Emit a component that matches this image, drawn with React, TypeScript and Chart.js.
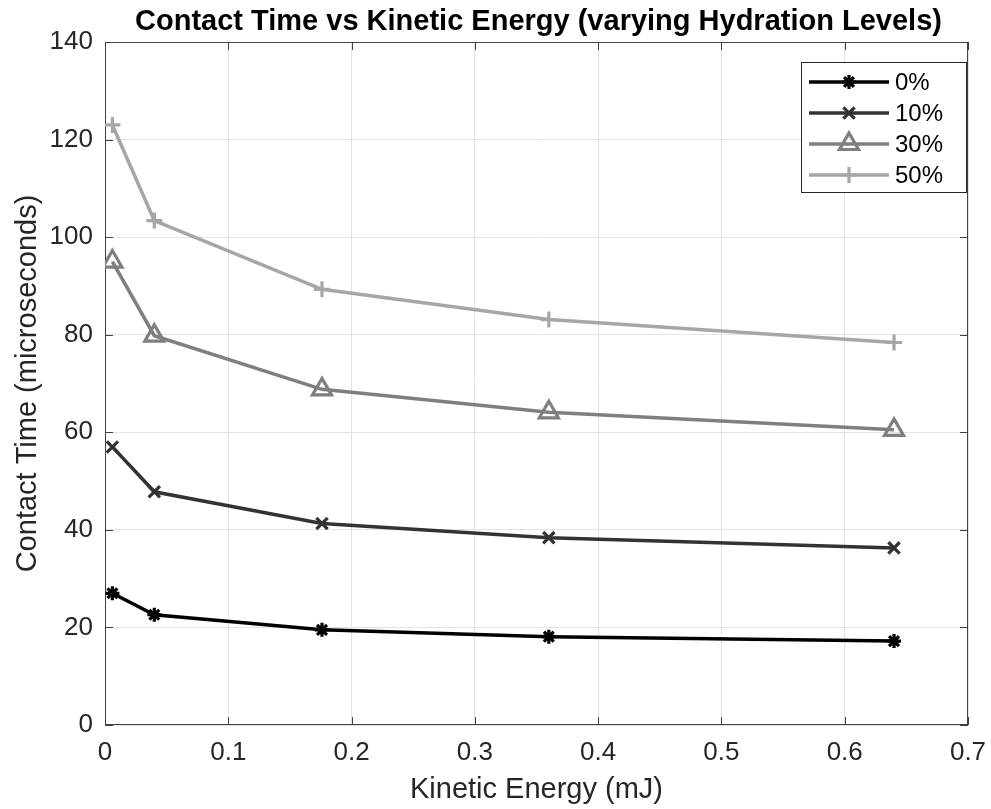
import React, { useEffect, useRef } from "react";
import { Chart, registerables } from "chart.js";

Chart.register(...registerables);

const energy = [0.006, 0.04, 0.176, 0.36, 0.64];
const hydration0 = [27.0, 22.6, 19.5, 18.1, 17.2];
const hydration10 = [57.0, 47.8, 41.3, 38.4, 36.3];
const hydration30 = [95.0, 79.8, 68.8, 64.1, 60.5];
const hydration50 = [123.0, 103.4, 89.3, 83.1, 78.4];
const seriesLabels = ["0%", "10%", "30%", "50%"];
const seriesColors = ["#000000", "#333333", "#7f7f7f", "#a6a6a6"];
const seriesMarkers = ["star", "crossRot", "triangle", "cross"];
const markerRadius = [7, 8, 11, 8];

const FONT = '"Liberation Sans", Arial, Helvetica, sans-serif';
const TITLE = "Contact Time vs Kinetic Energy (varying Hydration Levels)";

function drawMarker(ctx: CanvasRenderingContext2D, style: string, x: number, y: number, r: number) {
  ctx.beginPath();
  if (style === "star" || style === "cross") {
    ctx.moveTo(x, y - r); ctx.lineTo(x, y + r);
    ctx.moveTo(x - r, y); ctx.lineTo(x + r, y);
  }
  if (style === "star" || style === "crossRot") {
    const d = r * Math.SQRT1_2;
    ctx.moveTo(x - d, y - d); ctx.lineTo(x + d, y + d);
    ctx.moveTo(x + d, y - d); ctx.lineTo(x - d, y + d);
  }
  if (style === "triangle") {
    let rad = 0;
    ctx.moveTo(x + Math.sin(rad) * r, y - Math.cos(rad) * r);
    rad += (2 * Math.PI) / 3;
    ctx.lineTo(x + Math.sin(rad) * r, y - Math.cos(rad) * r);
    rad += (2 * Math.PI) / 3;
    ctx.lineTo(x + Math.sin(rad) * r, y - Math.cos(rad) * r);
    ctx.closePath();
  }
  ctx.stroke();
}

const boxPlugin = {
  id: "boxPlugin",
  beforeDatasetsDraw(chart: any) {
    const { ctx, chartArea: a, scales } = chart;
    ctx.save();
    ctx.strokeStyle = "#404040";
    ctx.lineWidth = 1;
    ctx.strokeRect(a.left + 0.5, a.top + 0.5, a.right - a.left - 1, a.bottom - a.top - 1);
    const tl = 8;
    ctx.beginPath();
    scales.x.ticks.forEach((t: any) => {
      const px = Math.round(scales.x.getPixelForValue(t.value)) + 0.5;
      ctx.moveTo(px, a.bottom); ctx.lineTo(px, a.bottom - tl);
      ctx.moveTo(px, a.top); ctx.lineTo(px, a.top + tl);
    });
    scales.y.ticks.forEach((t: any) => {
      const py = Math.round(scales.y.getPixelForValue(t.value)) + 0.5;
      ctx.moveTo(a.left, py); ctx.lineTo(a.left + tl, py);
      ctx.moveTo(a.right, py); ctx.lineTo(a.right - tl, py);
    });
    ctx.stroke();
    ctx.restore();
  },
  afterDraw(chart: any) {
    const { ctx, chartArea: a } = chart;
    ctx.save();
    // title
    ctx.fillStyle = "#000000";
    ctx.font = `bold 29px ${FONT}`;
    ctx.textAlign = "center";
    ctx.textBaseline = "middle";
    ctx.fillText(TITLE, (a.left + a.right) / 2 + 2, a.top - 20);
    // legend
    const bx = a.right - 167;
    const by = a.top + 20;
    const bw = 165;
    const bh = 130;
    ctx.fillStyle = "#ffffff";
    ctx.fillRect(bx, by, bw, bh);
    ctx.strokeStyle = "#262626";
    ctx.lineWidth = 1;
    ctx.strokeRect(bx + 0.5, by + 0.5, bw, bh);
    chart.data.datasets.forEach((ds: any, i: number) => {
      const y = by + 20 + i * 31;
      ctx.strokeStyle = ds.borderColor;
      ctx.lineWidth = ds.borderWidth;
      ctx.beginPath();
      ctx.moveTo(bx + 8, y);
      ctx.lineTo(bx + 88, y);
      ctx.stroke();
      ctx.lineWidth = ds.pointBorderWidth;
      drawMarker(ctx, ds.pointStyle, bx + 48, y, ds.pointRadius);
      ctx.fillStyle = "#000000";
      ctx.font = `24px ${FONT}`;
      ctx.textAlign = "left";
      ctx.textBaseline = "middle";
      ctx.fillText(ds.label, bx + 94, y + 1);
    });
    ctx.restore();
  },
};

export default function App() {
  const canvasRef = useRef<HTMLCanvasElement | null>(null);

  useEffect(() => {
    if (!canvasRef.current) return;
    const series = [hydration0, hydration10, hydration30, hydration50];
    const chart = new Chart(canvasRef.current, {
      type: "line",
      data: {
        datasets: series.map((vals, i) => ({
          label: seriesLabels[i],
          data: energy.map((x, j) => ({ x, y: vals[j] })),
          borderColor: seriesColors[i],
          backgroundColor: "transparent",
          borderWidth: 3.5,
          pointStyle: seriesMarkers[i] as any,
          pointRadius: markerRadius[i],
          pointBorderWidth: 3.2,
          pointBorderColor: seriesColors[i],
          pointBackgroundColor: "transparent",
          fill: false,
          tension: 0,
        })),
      },
      options: {
        responsive: false,
        animation: false,
        devicePixelRatio: 1,
        layout: { padding: { top: 42, right: 23, left: 0, bottom: 0 } },
        plugins: {
          legend: { display: false },
          title: { display: false },
          tooltip: { enabled: false },
        },
        scales: {
          x: {
            type: "linear",
            min: 0,
            max: 0.7,
            afterFit: (s: any) => {
              s.height = 84;
              s.paddingLeft = 0;
              s.paddingRight = 0;
            },
            ticks: {
              stepSize: 0.1,
              color: "#262626",
              font: { family: FONT, size: 26 },
              padding: 12,
              maxRotation: 0,
              callback: (v: any) => (Number(v) === 0 ? "0" : Number(v).toFixed(1)),
            },
            grid: { color: "#e3e3e3", lineWidth: 1, drawTicks: false },
            border: { display: false },
            title: {
              display: true,
              text: "Kinetic Energy (mJ)",
              color: "#262626",
              font: { family: FONT, size: 29 },
              padding: { top: 0, bottom: 2 },
            },
          },
          y: {
            type: "linear",
            min: 0,
            max: 140,
            afterFit: (s: any) => {
              s.width = 105;
              s.paddingTop = 0;
              s.paddingBottom = 0;
            },
            ticks: {
              stepSize: 20,
              color: "#262626",
              font: { family: FONT, size: 26 },
              padding: 12,
            },
            grid: { color: "#e3e3e3", lineWidth: 1, drawTicks: false },
            border: { display: false },
            title: {
              display: true,
              text: "Contact Time (microseconds)",
              color: "#262626",
              font: { family: FONT, size: 29 },
              padding: { top: 11, bottom: 0 },
            },
          },
        },
      },
      plugins: [boxPlugin],
    });
    return () => chart.destroy();
  }, []);

  return (
    <div style={{ position: "fixed", left: 0, top: 0, width: 991, height: 809, background: "#ffffff" }}>
      <canvas ref={canvasRef} width={991} height={809} style={{ width: 991, height: 809, display: "block" }} />
    </div>
  );
}
